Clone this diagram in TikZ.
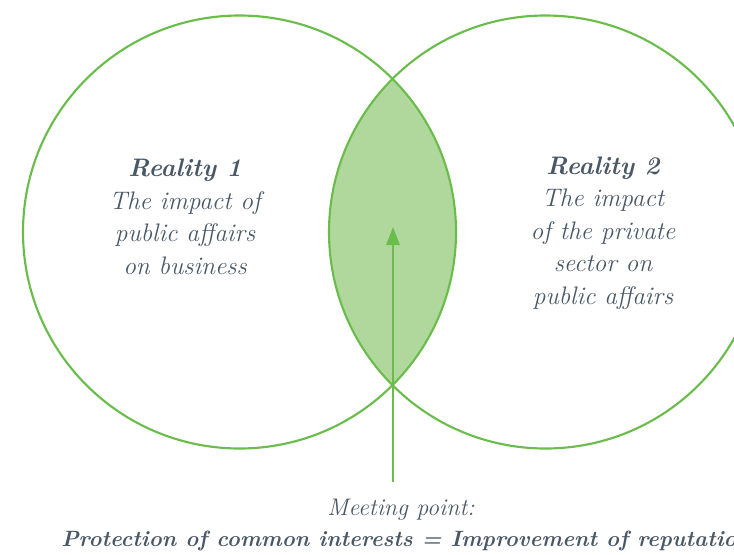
\documentclass[tikz,border=0pt]{standalone}
\usepackage{xcolor}
\usetikzlibrary{arrows.meta}

\definecolor{ringgreen}{RGB}{106,189,75}
\definecolor{lensgreen}{RGB}{176,216,156}
\definecolor{inkgrey}{RGB}{74,88,102}

\tikzset{
  ring/.style={draw=ringgreen, line width=1.6pt},
  lens/.style={fill=lensgreen},
  realitytext/.style={text=inkgrey, align=center, inner sep=0.75pt,
    font=\fontsize{19}{24.4}\selectfont\itshape},
  meettext/.style={text=inkgrey, inner sep=0.75pt,
    font=\fontsize{18}{23}\selectfont\itshape},
}

\begin{document}
\begin{tikzpicture}[x=0.75pt,y=0.75pt,yscale=-1,xscale=1]
\useasboundingbox (0,0) rectangle (734,554);

%Shape: Lens (intersection of both circles)
\begin{scope}
\clip (239.5,232) circle (216.5);
\fill[lens] (545.5,232) circle (216.5);
\end{scope}

%Shape: Circle [left]
\draw[ring] (239.5,232) circle (216.5);
%Shape: Circle [right]
\draw[ring] (545.5,232) circle (216.5);

%Straight Lines [arrow to meeting point]
\coordinate (foot) at (393,482);
\coordinate (meet) at (393,227);
\draw[draw=ringgreen, line width=1.6pt, -{Triangle[length=13.5pt,width=10pt]}] (foot) -- (meet);

% Text Node
\node[realitytext] (real1) at (185,217) {{\bfseries Reality 1}\\The impact of\\public affairs\\on business};
% Text Node
\node[realitytext] (real2) at (603,233) {{\bfseries Reality 2}\\The impact\\of the private\\sector on\\public affairs};
% Text Node
\node[meettext] (meetlbl) at (401,510) {Meeting point:};
% Text Node
\node[meettext, anchor=west, font=\fontsize{16.6}{21}\selectfont\itshape] (goal) at (60,541) {\bfseries Protection of common interests = Improvement of reputation};

\end{tikzpicture}
\end{document}
